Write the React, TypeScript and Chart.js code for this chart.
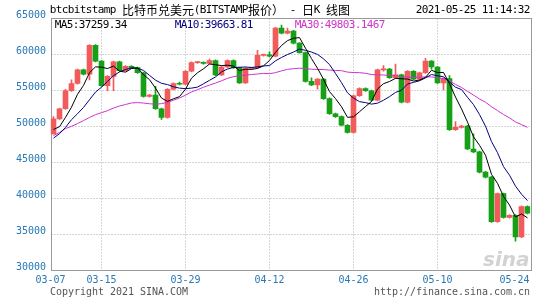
import React, { useEffect, useRef } from 'react';
import { Chart, registerables } from 'chart.js';

Chart.register(...registerables);

// ---- data (BTC / USD, Bitstamp, daily) ----
const dates = [
  '03-07','03-08','03-09','03-10','03-11','03-12','03-13','03-14','03-15','03-16',
  '03-17','03-18','03-19','03-20','03-21','03-22','03-23','03-24','03-25','03-26',
  '03-27','03-28','03-29','03-30','03-31','04-01','04-02','04-03','04-04','04-05',
  '04-06','04-07','04-08','04-09','04-10','04-11','04-12','04-13','04-14','04-15',
  '04-16','04-17','04-18','04-19','04-20','04-21','04-22','04-23','04-24','04-25',
  '04-26','04-27','04-28','04-29','04-30','05-01','05-02','05-03','05-04','05-05',
  '05-06','05-07','05-08','05-09','05-10','05-11','05-12','05-13','05-14','05-15',
  '05-16','05-17','05-18','05-19','05-20','05-21','05-22','05-23','05-24','05-25',
];

const opens = [
  48900,51000,52400,54900,55900,57800,57200,61200,59000,55600,
  56900,58900,57700,58300,58100,57400,54100,54300,52400,51200,
  55100,55900,55800,57600,58800,58850,58700,59100,57100,58200,
  59100,58100,56000,58000,58100,59800,59900,59700,63600,62900,
  63200,61500,60200,56200,55700,56500,53800,51700,51300,50100,
  49100,54200,55200,54900,53600,57800,57900,56700,57100,53300,
  57600,56500,57400,59000,58200,56000,56600,49500,49800,50000,
  46800,46400,43600,42900,36700,40600,37300,37600,34600,38800,
];

const closes = [
  51000,52400,54900,55900,57800,57200,61200,59000,55600,56900,
  58900,57700,58300,58100,57400,54100,54300,52400,51200,55100,
  55900,55800,57600,58800,58850,58700,59100,57100,58200,59100,
  58100,56000,58000,58100,59800,59900,59700,63600,62900,63200,
  61500,60200,56200,55700,56500,53800,51700,51300,50100,49100,
  54200,55200,54900,53600,57800,57900,56700,57100,53300,57600,
  56500,57400,59000,58200,56000,56600,49500,49800,50000,46800,
  46400,43600,42900,36700,40600,37300,37600,34600,38800,37900,
];

const highs = [
  51300,52500,55100,56400,57900,57900,61300,61300,59100,57000,
  59000,59000,58400,58400,58200,57500,54400,55500,52500,55200,
  56000,56100,57700,58900,58950,58900,59300,59200,58300,59200,
  59200,58200,58100,58200,60500,60000,60300,63700,64000,63600,
  63300,61600,60300,56700,56600,56600,53900,51800,51400,50200,
  54300,55300,55300,55000,57900,58400,58000,58600,57200,57700,
  57700,57500,59400,59100,58300,56700,57000,50600,50100,50100,
  48900,46500,43700,43000,40700,40700,37700,37700,38900,38900,
];

const lows = [
  48900,50900,52300,54800,55800,57100,56400,58900,55500,54900,
  54900,57600,57600,58000,57300,54000,54000,52300,50900,51100,
  55000,55700,55700,57500,58700,58600,58600,57000,57000,58100,
  58000,55900,55900,57900,58000,59700,59600,59600,62800,62800,
  61400,60100,56100,55600,55100,53700,51600,51200,50000,49000,
  49000,54100,54800,53500,53500,57600,56600,56600,53200,53200,
  56400,56400,57300,57900,55900,55000,49400,49400,49700,46700,
  46300,43500,42800,36600,36600,37200,37200,34000,34500,37800,
];

// closes of the 29 days before 03-07 (needed by the moving averages)
const earlierCloses = [
  39250,38850,46400,46500,44850,48000,47400,47200,48600,47950,
  49150,52150,51600,55900,55900,57400,54100,48900,49700,47000,
  46300,46150,45150,49600,48400,50500,48400,48800,48900,
];

const yTicks = [30000, 35000, 40000, 45000, 50000, 55000, 60000, 65000];
const gridDates = ['03-15', '03-29', '04-12', '04-26', '05-10'];
const xLabelDates = ['03-07', '03-15', '03-29', '04-12', '04-26', '05-10', '05-24'];
const titleText = 'btcbitstamp 比特币兑美元(BITSTAMP报价） - 日K 线图';
const timeText = '2021-05-25 11:14:32';
const maLabels = ['MA5:37259.34', 'MA10:39663.81', 'MA30:49803.1467'];
const footLeft = 'Copyright 2021 SINA.COM';
const footRight = 'http://finance.sina.com.cn';

const UP = '#f25b5b';
const DOWN = '#17a017';
const AXIS_BLUE = '#2878b4';
const MA_COLORS = ['#000000', '#000080', '#cc33cc'];

function movingAverage(n: number): number[] {
  const all = earlierCloses.concat(closes);
  const off = earlierCloses.length;
  return closes.map((_, i) => {
    let s = 0;
    for (let k = 0; k < n; k++) s += all[off + i - k];
    return s / n;
  });
}

function drawCells(
  ctx: CanvasRenderingContext2D,
  text: string,
  x: number,
  y: number,
  align: 'left' | 'right' | 'center',
  asciiFont: string,
  color: string
) {
  const chars = Array.from(text);
  const wide = (ch: string) => ch.charCodeAt(0) > 0x2e80;
  const total = chars.reduce((s, ch) => s + (wide(ch) ? 12 : 6), 0);
  let cx = align === 'right' ? x - total : align === 'center' ? x - total / 2 : x;
  ctx.fillStyle = color;
  ctx.textAlign = 'left';
  ctx.textBaseline = 'middle';
  for (const ch of chars) {
    const w = wide(ch) ? 12 : 6;
    ctx.font = wide(ch) ? '12px "Noto Sans CJK SC"' : asciiFont;
    const mw = ctx.measureText(ch).width;
    ctx.fillText(ch, cx + (w - mw) / 2, y);
    cx += w;
  }
}

export default function App() {
  const ref = useRef<HTMLCanvasElement>(null);

  useEffect(() => {
    document.body.style.margin = '0';
    const canvas = ref.current;
    if (!canvas) return;

    const colors = closes.map((c, i) => (c >= opens[i] ? UP : DOWN));
    const ma5 = movingAverage(5);
    const ma10 = movingAverage(10);
    const ma30 = movingAverage(30);

    const decor = {
      id: 'decor',
      beforeDatasetsDraw(chart: any) {
        const { ctx, chartArea } = chart;
        const xs = chart.scales.x;
        const ys = chart.scales.y;
        const L = Math.round(chartArea.left) + 0.5;
        const R = Math.round(chartArea.right) + 0.5;
        const T = Math.round(chartArea.top) + 0.5;
        const B = Math.round(chartArea.bottom) + 0.5;
        ctx.save();
        ctx.lineWidth = 1;
        ctx.strokeStyle = '#aaaaaa';
        ctx.setLineDash([1, 2]);
        yTicks.forEach((v) => {
          if (v === yTicks[0] || v === yTicks[yTicks.length - 1]) return;
          const y = Math.round(ys.getPixelForValue(v)) + 0.5;
          ctx.beginPath();
          ctx.moveTo(L, y);
          ctx.lineTo(R, y);
          ctx.stroke();
        });
        gridDates.forEach((d) => {
          const x = Math.floor(xs.getPixelForValue(dates.indexOf(d))) + 0.5;
          ctx.beginPath();
          ctx.moveTo(x, T);
          ctx.lineTo(x, B);
          ctx.stroke();
        });
        ctx.setLineDash([]);
        ctx.strokeStyle = '#999999';
        ctx.strokeRect(L, T, R - L, B - T);

        // watermark
        ctx.font = 'italic bold 20px "DejaVu Sans"';
        ctx.fillStyle = '#d2d2d2';
        ctx.textAlign = 'right';
        ctx.textBaseline = 'alphabetic';
        ctx.fillText('sina', R - 2, B - 5);
        ctx.restore();
      },
      afterDraw(chart: any) {
        const { ctx, chartArea } = chart;
        const xs = chart.scales.x;
        const ys = chart.scales.y;
        ctx.save();
        const f11 = '11px "DejaVu Sans Mono"';
        const f10 = '10px "DejaVu Sans Mono"';
        drawCells(ctx, titleText, 50, 10, 'left', f11, '#000000');
        drawCells(ctx, timeText, 530, 10, 'right', f11, '#000000');
        const maX = [55, 175, 295];
        maLabels.forEach((t, i) => drawCells(ctx, t, maX[i], 25, 'left', f11, MA_COLORS[i]));
        yTicks.forEach((v) => {
          const y = ys.getPixelForValue(v) - 3;
          drawCells(ctx, String(v), 46, y, 'right', f10, AXIS_BLUE);
        });
        xLabelDates.forEach((d, i) => {
          const half = 15;
          let cx = i === 0 ? chartArea.left : xs.getPixelForValue(dates.indexOf(d));
          if (cx + half > chartArea.right - 1) cx = chartArea.right - 1 - half;
          drawCells(ctx, d, cx, 280, 'center', f10, AXIS_BLUE);
        });
        drawCells(ctx, footLeft, 50, 292, 'left', f10, '#555555');
        drawCells(ctx, footRight, 530, 292, 'right', f10, '#555555');
        ctx.restore();
      },
    };

    const lineDs = (label: string, data: number[], color: string) => ({
      type: 'line' as const,
      label,
      data,
      borderColor: color,
      backgroundColor: color,
      borderWidth: 1,
      pointRadius: 0,
      tension: 0,
      fill: false,
    });

    const chart = new Chart(canvas, {
      type: 'bar',
      data: {
        labels: dates,
        datasets: [
          lineDs('MA5', ma5, MA_COLORS[0]),
          lineDs('MA10', ma10, MA_COLORS[1]),
          lineDs('MA30', ma30, MA_COLORS[2]),
          {
            type: 'bar',
            label: 'body',
            data: opens.map((o, i) => [o, closes[i]]),
            backgroundColor: colors,
            borderWidth: 0,
            barThickness: 5,
            minBarLength: 1,
            grouped: false,
          } as any,
          {
            type: 'bar',
            label: 'wick',
            data: lows.map((l, i) => [l, highs[i]]),
            backgroundColor: colors,
            borderWidth: 0,
            barThickness: 1,
            grouped: false,
          } as any,
        ],
      },
      options: {
        responsive: false,
        animation: false,
        devicePixelRatio: 1,
        events: [],
        layout: { padding: { left: 50.5, right: 14.5, top: 18, bottom: 30 } },
        plugins: {
          legend: { display: false },
          tooltip: { enabled: false },
          title: { display: false },
        },
        scales: {
          x: { type: 'category', display: false, offset: true, grid: { display: false } },
          y: { type: 'linear', display: false, min: 30000, max: 65000 },
        },
      } as any,
      plugins: [decor],
    });

    return () => chart.destroy();
  }, []);

  return (
    <div style={{ width: 545, height: 300 }}>
      <canvas ref={ref} width={545} height={300} style={{ display: 'block' }} />
    </div>
  );
}
